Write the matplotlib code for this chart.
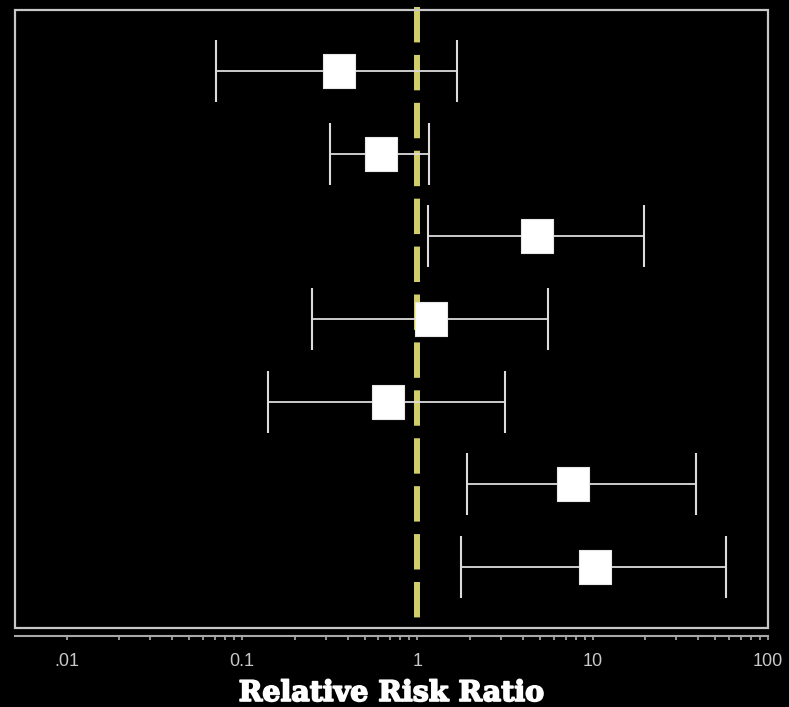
import matplotlib
matplotlib.use("Agg")
import matplotlib.pyplot as plt
import matplotlib.patheffects as pe
from matplotlib.patches import Rectangle
from matplotlib.ticker import FixedLocator, FixedFormatter
import numpy as np

# relative risk estimates with lower / upper confidence limits
rows = [1, 2, 3, 4, 5, 6, 7]
rr = [0.356, 0.624, 4.8, 1.2, 0.684, 7.7, 10.3]
lower = [0.071, 0.316, 1.155, 0.25, 0.14, 1.92, 1.78]
upper = [1.69, 1.17, 19.7, 5.55, 3.16, 39.0, 57.7]

tick_vals = [0.01, 0.1, 1, 10, 100]
tick_text = [".01", "0.1", "1", "10", "100"]

plt.rcParams["lines.scale_dashes"] = False

fig = plt.figure(figsize=(7.89, 7.07), dpi=100, facecolor="black")
ax = fig.add_axes([15 / 789, 1 - 628 / 707, 753 / 789, 618 / 707])
ax.set_facecolor("black")

ax.set_xscale("log")
ax.set_xlim(0.00507, 100)
ax.set_ylim(7.74, 0.26)

# box around the plotting area, axis line sits a little below it
ax.add_patch(Rectangle((0, 0), 1, 1, transform=ax.transAxes, fill=False,
                       edgecolor="#c8c8c8", lw=1.6, clip_on=False, zorder=5))
for s in ["top", "left", "right"]:
    ax.spines[s].set_visible(False)
ax.spines["bottom"].set_position(("outward", 6))
ax.spines["bottom"].set_color("#a8a8a8")
ax.spines["bottom"].set_linewidth(1.5)

# reference line at RR = 1 (dash lengths in points)
ax.plot([1, 1], [0.22, 7.74], color="#d2cf6a", lw=4.3,
        linestyle=(0, (25.5, 9.0)), solid_capstyle="butt", clip_on=False, zorder=2)

rr_a = np.array(rr)
err = [rr_a - np.array(lower), np.array(upper) - rr_a]
ax.errorbar(rr, rows, xerr=err, fmt="none", ecolor="#dcdcdc", elinewidth=1.3,
            capsize=22.5, capthick=1.5, zorder=3)

sq = [(-1, -1.08), (1, -1.08), (1, 1.08), (-1, 1.08), (-1, -1.08)]
ax.plot(rr, rows, linestyle="none", marker=sq, markersize=24.5,
        markerfacecolor="white", markeredgecolor="#e8e8e8", markeredgewidth=0.8,
        zorder=4)

ax.xaxis.set_major_locator(FixedLocator(tick_vals))
ax.xaxis.set_major_formatter(FixedFormatter(tick_text))
minors = [m * d for d in [0.01, 0.1, 1, 10] for m in range(2, 10)]
ax.xaxis.set_minor_locator(FixedLocator(minors))
ax.xaxis.set_minor_formatter(FixedFormatter([]))
ax.tick_params(axis="x", which="both", direction="out", length=3.2, width=1.2,
               color="#b0b0b0", labelcolor="#c8c8c8", labelsize=13, pad=9)
for lab in ax.get_xticklabels():
    lab.set_fontfamily("Liberation Sans")
ax.set_yticks([])

xl = ax.set_xlabel("Relative Risk Ratio", color="white", fontsize=20.5,
                   fontfamily="DejaVu Serif", fontweight="bold", labelpad=7)
xl.set_path_effects([pe.withStroke(linewidth=1.2, foreground="white")])

fig.savefig("out.png", dpi=100, facecolor="black")
